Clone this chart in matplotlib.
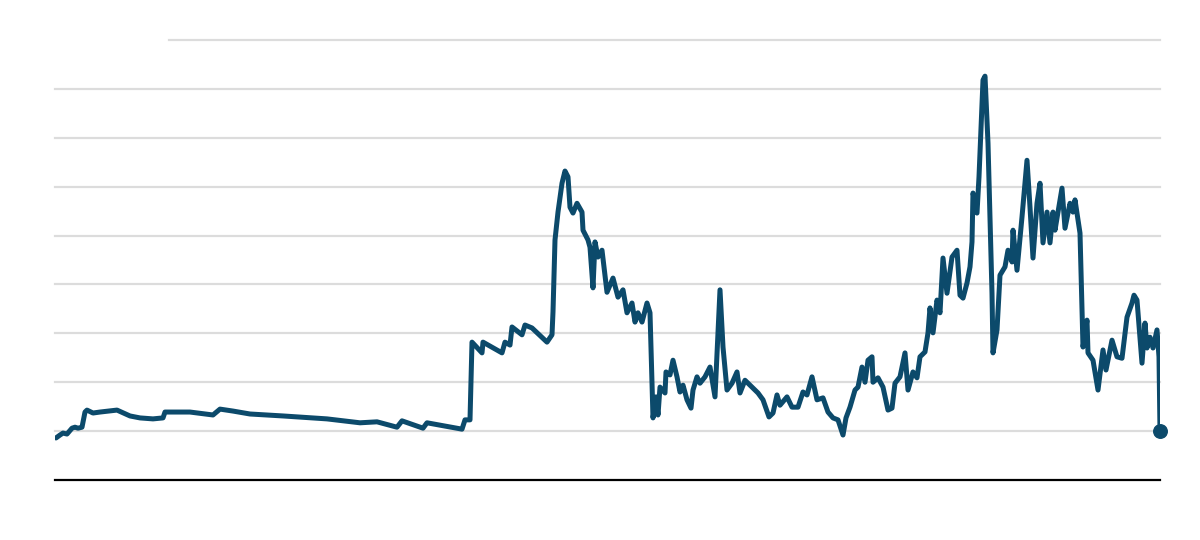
import numpy as np
import matplotlib.pyplot as plt

# time index (arbitrary units) and series value
t = [1, 5, 8, 12, 17, 20, 23, 27, 30, 32,
     38, 45, 62, 75, 85, 98, 108, 110, 135, 158,
     165, 178, 195, 228, 272, 305, 322, 342, 347, 368,
     372, 407, 410, 415, 417, 427, 428, 447, 450, 455,
     457, 467, 470, 477, 492, 497, 498, 500, 503, 507,
     510, 513, 515, 518, 522, 527, 528, 533, 535, 538,
     540, 543, 547, 552, 558, 563, 568, 572, 577, 580,
     583, 587, 592, 595, 598, 601, 603, 605, 610, 611,
     615, 618, 622, 625, 628, 632, 636, 638, 642, 645,
     650, 655, 660, 665, 668, 672, 677, 682, 685, 690,
     697, 703, 708, 714, 718, 722, 725, 732, 737, 743,
     748, 752, 757, 762, 768, 773, 778, 783, 788, 791,
     795, 800, 803, 807, 810, 813, 817, 818, 823, 828,
     833, 837, 840, 845, 850, 853, 858, 862, 865, 870,
     873, 875, 878, 882, 885, 888, 892, 897, 902, 905,
     908, 912, 915, 917, 918, 922, 924, 928, 930, 933,
     937, 938, 942, 945, 950, 953, 957, 958, 962, 967,
     972, 975, 978, 982, 985, 988, 992, 995, 998, 1000,
     1007, 1010, 1015, 1018, 1020, 1025, 1028, 1032, 1033, 1038,
     1043, 1048, 1051, 1057, 1062, 1067, 1072, 1077, 1079, 1082,
     1087, 1090, 1092, 1095, 1098, 1102, 1104, 1105]

values = [0.86, 0.92, 0.96, 0.94, 1.06, 1.08, 1.06, 1.08, 1.39, 1.43,
          1.37, 1.39, 1.43, 1.31, 1.27, 1.25, 1.27, 1.39, 1.39, 1.33,
          1.45, 1.41, 1.35, 1.31, 1.25, 1.17, 1.19, 1.08, 1.21, 1.06,
          1.17, 1.04, 1.23, 1.23, 2.82, 2.60, 2.82, 2.60, 2.82, 2.76,
          3.13, 2.97, 3.17, 3.11, 2.82, 2.97, 3.44, 4.91, 5.48, 6.07,
          6.32, 6.20, 5.58, 5.46, 5.66, 5.48, 5.11, 4.91, 4.76, 3.93,
          4.87, 4.56, 4.70, 3.84, 4.13, 3.74, 3.89, 3.42, 3.62, 3.23,
          3.42, 3.23, 3.62, 3.42, 1.27, 1.70, 1.33, 1.90, 1.78, 2.21,
          2.15, 2.45, 2.11, 1.80, 1.94, 1.64, 1.47, 1.84, 2.11, 1.98,
          2.11, 2.31, 1.70, 3.89, 2.72, 1.84, 1.98, 2.21, 1.78, 2.04,
          1.90, 1.78, 1.64, 1.29, 1.37, 1.74, 1.53, 1.70, 1.49, 1.49,
          1.80, 1.74, 2.11, 1.64, 1.68, 1.39, 1.27, 1.23, 0.92, 1.27,
          1.49, 1.84, 1.90, 2.31, 2.00, 2.45, 2.52, 2.00, 2.09, 1.90,
          1.43, 1.47, 1.98, 2.11, 2.60, 1.84, 2.21, 2.09, 2.52, 2.62,
          3.01, 3.52, 3.01, 3.68, 3.42, 4.54, 3.82, 4.56, 4.70, 3.78,
          3.72, 4.03, 4.36, 4.87, 5.87, 5.46, 6.20, 8.18, 8.26, 6.89,
          3.82, 2.60, 3.07, 4.19, 4.36, 4.70, 4.46, 5.11, 4.29, 5.38,
          6.54, 5.58, 4.54, 5.66, 6.07, 4.85, 5.48, 4.85, 5.48, 5.11,
          5.97, 5.15, 5.66, 5.48, 5.73, 5.05, 2.72, 3.27, 2.60, 2.45,
          1.84, 2.66, 2.25, 2.86, 2.52, 2.49, 3.33, 3.62, 3.78, 3.68,
          2.39, 3.21, 2.70, 2.92, 2.70, 3.07, 2.52, 1.00]

grid_levels = [1, 2, 3, 4, 5, 6, 7, 8, 9]

line_color = '#0c4a6b'
grid_color = '#dcdcdc'

fig = plt.figure(figsize=(12, 5.4), dpi=100)
# plot area: x 55..1160 px, y from the baseline (480 px) up to the top gridline (40 px)
ax = fig.add_axes([55 / 1200, 60 / 540, 1105 / 1200, 440 / 540])
ax.set_xlim(0, 1105)
ax.set_ylim(0, 9)

# horizontal gridlines; the top one starts a bit to the right
for g in grid_levels:
    start = 0.103 if g == grid_levels[-1] else 0.0
    ax.axhline(g, xmin=start, xmax=1.0, color=grid_color, linewidth=1.6,
               zorder=1, clip_on=False)

ax.axhline(0, color='black', linewidth=1.6, zorder=2, clip_on=False)

ax.plot(t, values, color=line_color, linewidth=3.6, solid_joinstyle='round',
        solid_capstyle='round', zorder=3)
ax.scatter([t[-1]], [values[-1]], s=95, color=line_color, zorder=4, clip_on=False)

for side in ax.spines.values():
    side.set_visible(False)
ax.set_xticks([])
ax.set_yticks([])

fig.savefig('out.png', dpi=100)
